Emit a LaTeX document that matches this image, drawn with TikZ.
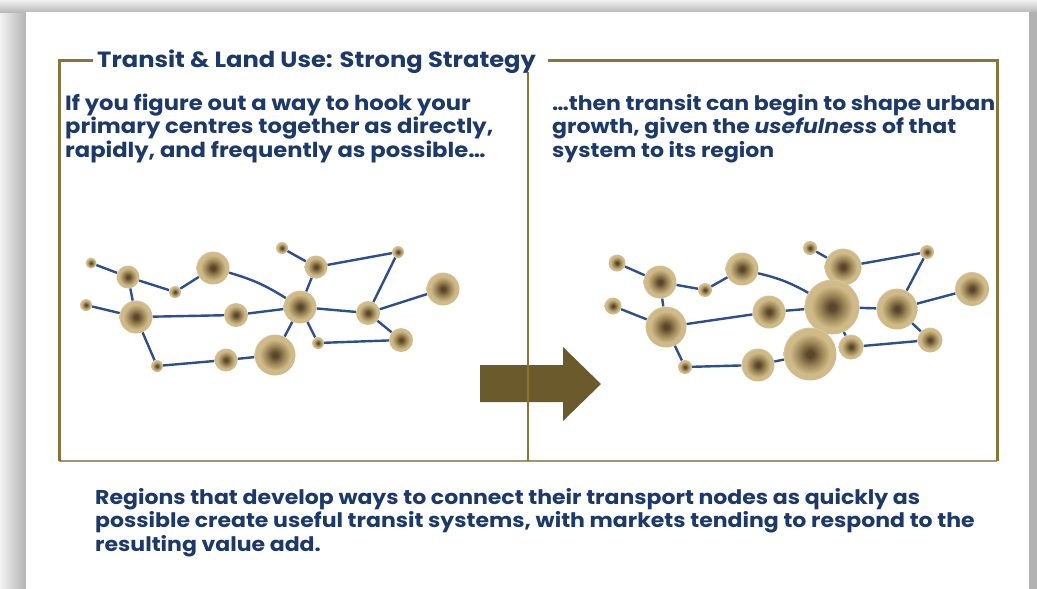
\documentclass[tikz,border=0pt]{standalone}
\usepackage{fontspec}
\setmainfont{Poppins}[FakeStretch=1.1]
\usetikzlibrary{backgrounds}
\definecolor{navy}{HTML}{1B396A}
\definecolor{gold}{HTML}{8A7538}
\definecolor{goldlight}{HTML}{A39572}
\definecolor{arrowc}{HTML}{6B5A2C}
\definecolor{edgec}{HTML}{2B4F90}
\definecolor{bdark}{HTML}{5A472A}
\definecolor{bmid}{HTML}{A38C5C}
\definecolor{btan}{HTML}{CFBA88}
\pgfdeclareradialshading{ballshade}{\pgfpoint{0bp}{0bp}}{color(0bp)=(bdark); color(3bp)=(bdark); color(12bp)=(bmid); color(19bp)=(btan); color(24bp)=(btan); color(25bp)=(btan!80!white); color(50bp)=(white)}
\pgfdeclarelayer{page}
\pgfsetlayers{page,background,main}
\tikzset{
  ball/.style={circle, inner sep=0pt, minimum size=#1, shade, shading=ballshade},
  link/.style={draw=edgec, line width=2.4pt},
  bodytext/.style={anchor=base west, align=left, text=navy, inner sep=0pt,
    font=\bfseries\fontsize{20}{23.5}\selectfont},
}
\begin{document}
\begin{tikzpicture}[x=1pt,y=-1pt]
\useasboundingbox (0,0) rectangle (1037,589);

% ---------- left network ----------
\node[ball=11] (L1) at (91,263) {};
\node[ball=23] (L2) at (128,277) {};
\node[ball=12] (L3) at (175,292) {};
\node[ball=33] (L4) at (213,268) {};
\node[ball=12] (L5) at (282,248) {};
\node[ball=23] (L6) at (316,267) {};
\node[ball=12] (L7) at (398,252) {};
\node[ball=33] (L8) at (443,289) {};
\node[ball=12] (L9) at (86,305) {};
\node[ball=33] (L10) at (136,317) {};
\node[ball=24] (L11) at (236,315) {};
\node[ball=33] (L12) at (300,307) {};
\node[ball=24] (L13) at (368,313) {};
\node[ball=12] (L14) at (318,343) {};
\node[ball=24] (L15) at (401,340) {};
\node[ball=12] (L16) at (157,366) {};
\node[ball=23] (L17) at (226,360) {};
\node[ball=41] (L18) at (275,355) {};

% ---------- right network ----------
\node[ball=17] (R1) at (617,263) {};
\node[ball=33] (R2) at (660,282) {};
\node[ball=14] (R3) at (705,290) {};
\node[ball=33] (R4) at (742,269) {};
\node[ball=14] (R5) at (810,248) {};
\node[ball=37] (R6) at (843,267) {};
\node[ball=14] (R7) at (927,252) {};
\node[ball=34] (R8) at (972,289) {};
\node[ball=17] (R9) at (613,306) {};
\node[ball=41] (R10) at (666,327) {};
\node[ball=33] (R11) at (769,312) {};
\node[ball=55] (R12) at (832,307) {};
\node[ball=41] (R13) at (897,309) {};
\node[ball=25] (R14) at (851,347) {};
\node[ball=25] (R15) at (930,340) {};
\node[ball=14] (R16) at (685,367) {};
\node[ball=33] (R17) at (758,365) {};
\node[ball=53] (R18) at (810,354) {};

\begin{pgfonlayer}{background}
\foreach \s in {L,R}{
  \draw[link] (\s1) -- (\s2);
  \draw[link] (\s2) -- (\s3);
  \draw[link] (\s3) -- (\s4);
  \draw[link] (\s2) -- (\s10);
  \draw[link] (\s9) -- (\s10);
  \draw[link] (\s10) -- (\s11);
  \draw[link] (\s11) -- (\s12);
  \draw[link] (\s4) to[bend left=8] (\s12);
  \draw[link] (\s5) -- (\s6);
  \draw[link] (\s6) -- (\s7);
  \draw[link] (\s6) -- (\s12);
  \draw[link] (\s7) -- (\s13);
  \draw[link] (\s12) -- (\s13);
  \draw[link] (\s13) -- (\s8);
  \draw[link] (\s13) -- (\s15);
  \draw[link] (\s12) -- (\s14);
  \draw[link] (\s14) -- (\s15);
  \draw[link] (\s12) -- (\s18);
  \draw[link] (\s18) -- (\s17);
  \draw[link] (\s17) -- (\s16);
  \draw[link] (\s16) -- (\s10);
}
\end{pgfonlayer}

\begin{pgfonlayer}{page}
% shadow and page
\shade[left color=gray!10, right color=gray!60] (0,0) rectangle (26,589);
\shade[top color=gray!10, bottom color=gray!55] (0,0) rectangle (1037,12);
\fill[gray!60] (1029,12) rectangle (1037,589);
\fill[white] (26,12) rectangle (1029,589);
% frame
\draw[goldlight, line width=1.5pt] (59,461) -- (997,461);
\draw[gold, line width=3pt] (93,60) -- (59,60) -- (59,461);
\draw[gold, line width=3pt] (548,60) -- (997,60) -- (997,461);
% arrow
\fill[arrowc] (480,365) -- (563,365) -- (563,347) -- (601,384) -- (563,421) -- (563,402) -- (480,402) -- cycle;
\draw[gold, line width=1.2pt] (528,72) -- (528,461);
\end{pgfonlayer}

% texts
\node[anchor=base west, inner sep=0pt, text=navy, font=\bfseries\fontsize{22}{24}\selectfont] (title) at (97,67) {Transit \& Land Use: Strong Strategy};
\node[bodytext, font=\bfseries\fontsize{20.6}{23.5}\selectfont] (lefttext) at (65,157) {If you figure out a way to hook your\\primary centres together as directly,\\rapidly, and frequently as possible\dots};
\node[bodytext] (righttext) at (552,157) {\dots then transit can begin to shape urban\\growth, given the \textit{usefulness} of that\\system to its region};
\node[bodytext] (bottomtext) at (95,551) {Regions that develop ways to connect their transport nodes as quickly as\\possible create useful transit systems, with markets tending to respond to the\\resulting value add.};
\end{tikzpicture}
\end{document}
